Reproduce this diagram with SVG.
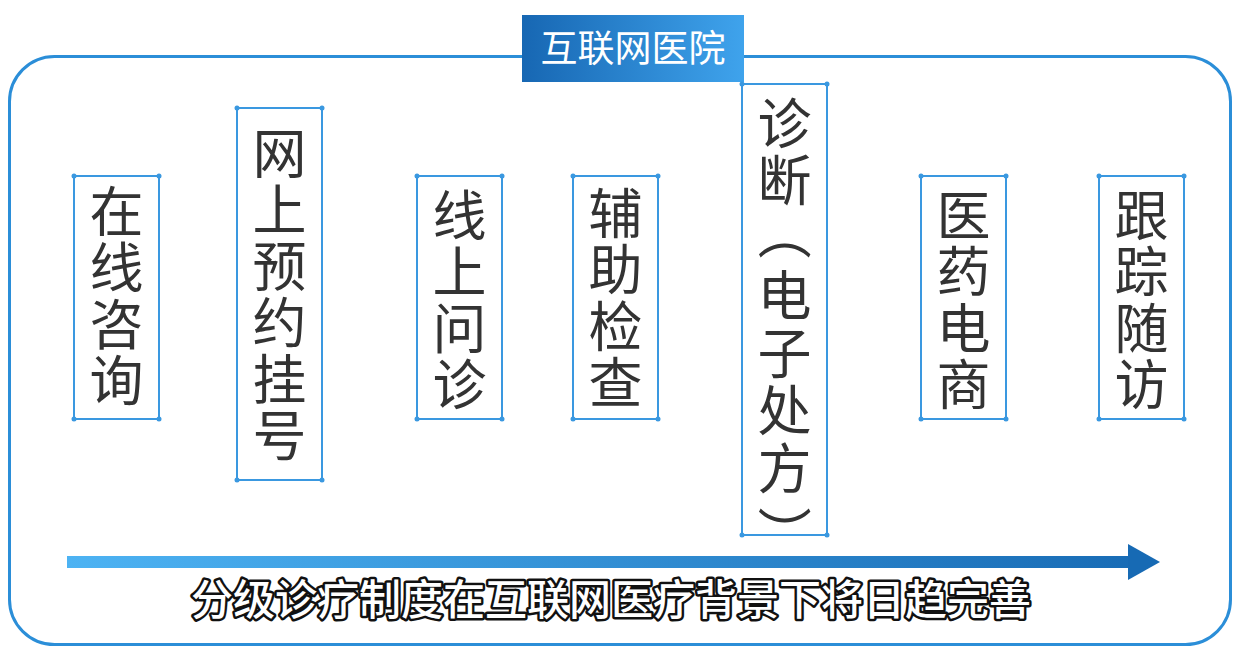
<svg xmlns="http://www.w3.org/2000/svg" width="1242" height="661" viewBox="0 0 1242 661">
<defs>
<linearGradient id="gTitle" x1="0" y1="0" x2="1" y2="0">
<stop offset="0" stop-color="#1767b3"/>
<stop offset="1" stop-color="#3fa3ec"/>
</linearGradient>
<linearGradient id="gArrow" x1="67" y1="0" x2="1160" y2="0" gradientUnits="userSpaceOnUse">
<stop offset="0" stop-color="#4db3f3"/>
<stop offset="1" stop-color="#176ab4"/>
</linearGradient>
<style>
.box{fill:#fff;stroke:#3a98e0;stroke-width:2}
.dot{fill:#3a98e0}
.vt{font-family:"Noto Sans CJK SC","Noto Sans",sans-serif;font-size:54px;fill:#333;writing-mode:vertical-rl;letter-spacing:2.5px}
.pr{font-family:"Noto Sans CJK SC","Noto Sans",sans-serif;font-size:54px;fill:#333;text-anchor:middle}
</style>
</defs>
<rect width="1242" height="661" fill="#fff"/>
<rect x="9.5" y="56.5" width="1221" height="588" rx="45" fill="none" stroke="#2b8ed8" stroke-width="3"/>
<g id="title">
<rect x="522" y="15" width="222" height="67" fill="url(#gTitle)"/>
<text x="633" y="62" text-anchor="middle" font-family="Noto Sans CJK SC,sans-serif" font-size="37" fill="#fff">互联网医院</text>
</g>
<g id="connectors">
<rect x="67" y="556" width="1065" height="12" fill="url(#gArrow)"/>
<polygon points="1128,544 1160,562 1128,580" fill="#176ab4"/>
</g>
<g id="n1"><rect class="box" x="74" y="176" width="85" height="243"/>
<circle class="dot" cx="74" cy="176" r="2.5"/><circle class="dot" cx="159" cy="176" r="2.5"/><circle class="dot" cx="74" cy="419" r="2.5"/><circle class="dot" cx="159" cy="419" r="2.5"/>
<text class="vt" x="116.5" y="184">在线咨询</text></g>
<g id="n2"><rect class="box" x="237" y="108" width="85" height="372"/>
<circle class="dot" cx="237" cy="108" r="2.5"/><circle class="dot" cx="322" cy="108" r="2.5"/><circle class="dot" cx="237" cy="480" r="2.5"/><circle class="dot" cx="322" cy="480" r="2.5"/>
<text class="vt" x="279.5" y="126">网上预约挂号</text></g>
<g id="n3"><rect class="box" x="417" y="176" width="85" height="243"/>
<circle class="dot" cx="417" cy="176" r="2.5"/><circle class="dot" cx="502" cy="176" r="2.5"/><circle class="dot" cx="417" cy="419" r="2.5"/><circle class="dot" cx="502" cy="419" r="2.5"/>
<text class="vt" x="459.5" y="188">线上问诊</text></g>
<g id="n4"><rect class="box" x="573" y="176" width="85" height="243"/>
<circle class="dot" cx="573" cy="176" r="2.5"/><circle class="dot" cx="658" cy="176" r="2.5"/><circle class="dot" cx="573" cy="419" r="2.5"/><circle class="dot" cx="658" cy="419" r="2.5"/>
<text class="vt" x="615.5" y="186">辅助检查</text></g>
<g id="n5"><rect class="box" x="742" y="84" width="85" height="451"/>
<circle class="dot" cx="742" cy="84" r="2.5"/><circle class="dot" cx="827" cy="84" r="2.5"/><circle class="dot" cx="742" cy="535" r="2.5"/><circle class="dot" cx="827" cy="535" r="2.5"/>
<text class="vt" x="784.5" y="96" style="letter-spacing:3.5px">诊断</text>
<text class="pr" x="784.5" y="253.5" transform="rotate(90 784.5 233)">（</text>
<text class="vt" x="784.5" y="268.5" style="letter-spacing:3.5px">电子处方</text>
<text class="pr" x="784.5" y="553.5" transform="rotate(90 784.5 533)">）</text></g>
<g id="n6"><rect class="box" x="921" y="176" width="85" height="243"/>
<circle class="dot" cx="921" cy="176" r="2.5"/><circle class="dot" cx="1006" cy="176" r="2.5"/><circle class="dot" cx="921" cy="419" r="2.5"/><circle class="dot" cx="1006" cy="419" r="2.5"/>
<text class="vt" x="963.5" y="188">医药电商</text></g>
<g id="n7"><rect class="box" x="1099" y="176" width="85" height="243"/>
<circle class="dot" cx="1099" cy="176" r="2.5"/><circle class="dot" cx="1184" cy="176" r="2.5"/><circle class="dot" cx="1099" cy="419" r="2.5"/><circle class="dot" cx="1184" cy="419" r="2.5"/>
<text class="vt" x="1141.5" y="188">跟踪随访</text></g>
<text x="611" y="615" text-anchor="middle" font-family="Noto Sans CJK SC,sans-serif" font-size="42" font-weight="500" fill="#fff" stroke="#111" stroke-width="5" stroke-linejoin="round" paint-order="stroke">分级诊疗制度在互联网医疗背景下将日趋完善</text>
</svg>
